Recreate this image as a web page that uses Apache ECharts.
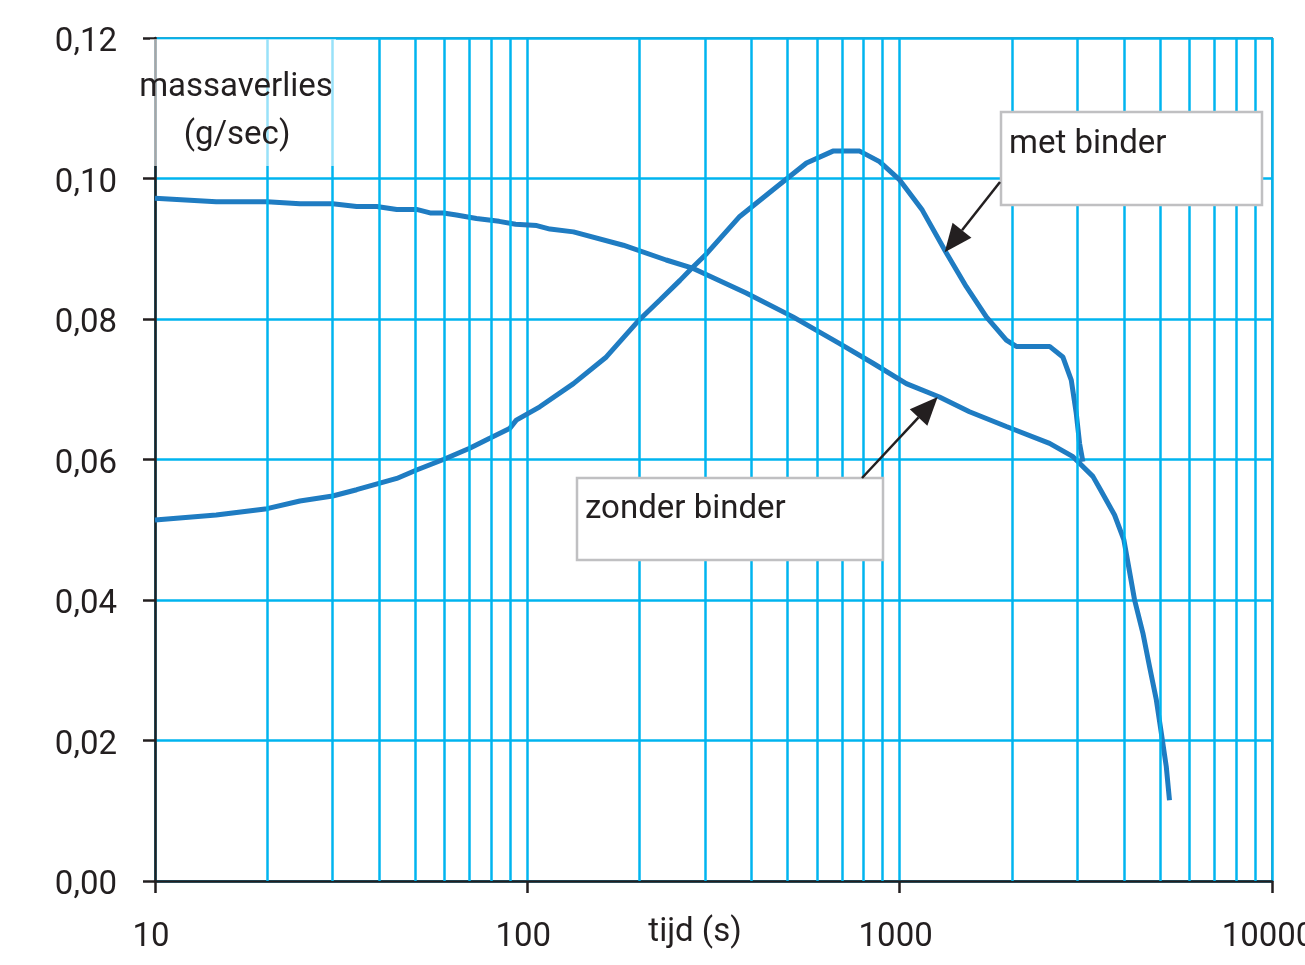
<!DOCTYPE html>
<html>
<head>
<meta charset="utf-8">
<script src="https://cdn.jsdelivr.net/npm/echarts@6/dist/echarts.min.js"></script>
<style>
  html, body { margin: 0; padding: 0; background: #fff; }
  #chart { width: 1305px; height: 965px; }
</style>
</head>
<body>
<div id="chart"></div>
<script>
// zonder binder: tijd (s) / massaverlies (g/sec)
const zonderT = [10, 14.6, 20, 24.5, 30, 34.8, 39.4, 44.6, 50.4, 54.8, 59.5, 64.5, 73, 84, 93, 106, 115, 133, 181, 236, 279, 387, 517, 690, 848, 1042, 1279, 1540, 1934, 2527, 2920, 3303, 3444, 3777, 4000, 4275, 4500, 4690, 4890, 5045, 5200, 5305]
const zonderV = [0.0972, 0.0967, 0.0967, 0.0964, 0.0964, 0.0960, 0.0960, 0.0956, 0.0956, 0.0951, 0.0951, 0.0948, 0.0943, 0.0939, 0.0935, 0.0933, 0.0928, 0.0924, 0.0905, 0.0884, 0.0872, 0.0837, 0.0803, 0.0765, 0.0737, 0.0708, 0.0689, 0.0668, 0.0647, 0.0623, 0.0604, 0.0576, 0.0559, 0.0521, 0.0486, 0.0400, 0.0353, 0.0305, 0.0258, 0.0210, 0.0163, 0.0115]

// met binder
const metT = [10, 14.6, 20, 24.5, 30, 34.8, 44.6, 50.4, 59.5, 70, 79, 89.6, 93.4, 108, 133, 163, 200, 227, 257, 276, 303, 372, 457, 562, 662, 781, 883, 1000, 1150, 1335, 1510, 1709, 1934, 2057, 2527, 2743, 2890, 2980, 3042, 3105]
const metV = [0.0514, 0.0521, 0.0530, 0.0541, 0.0548, 0.0557, 0.0573, 0.0585, 0.0600, 0.0616, 0.0630, 0.0644, 0.0656, 0.0675, 0.0708, 0.0746, 0.0799, 0.0827, 0.0855, 0.0872, 0.0893, 0.0946, 0.0984, 0.1022, 0.1039, 0.1039, 0.1024, 0.0998, 0.0955, 0.0894, 0.0846, 0.0803, 0.0770, 0.0761, 0.0761, 0.0746, 0.0713, 0.0666, 0.0623, 0.0597]

// minor log grid lines
const minorX = [20, 30, 40, 50, 60, 70, 80, 90, 200, 300, 400, 500, 600, 700, 800, 900, 2000, 3000, 4000, 5000, 6000, 7000, 8000, 9000]

// where the callout arrows point (data coords)
const metTip = [1321, 0.0895]
const zonderTip = [1265, 0.0689]

const lineColor = '#1f7cc2'
const gridColor = '#00b4ef'
const textColor = '#231f20'
const font = 'Roboto, "Liberation Sans", sans-serif'
const fs = 33

const zip = (a, b) => a.map((x, i) => [x, b[i]])

const chartDom = document.getElementById('chart')
const myChart = echarts.init(chartDom)

const option = {
    animation: false,
    backgroundColor: '#fff',
    grid: {
        left: 155, right: 33, top: 38, bottom: 84,
        outerBoundsMode: 'none', containLabel: false,
        show: true, borderColor: '#7d8a93', borderWidth: 2
    },
    xAxis: {
        type: 'log', logBase: 10, min: 10, max: 10000,
        axisLine: { lineStyle: { color: textColor, width: 2.5 } },
        axisTick: { show: true, length: 12, lineStyle: { color: textColor, width: 2.5 } },
        axisLabel: {
            fontSize: fs, color: textColor, fontFamily: font, margin: 40,
            formatter: v => '{a|' + v + '}',
            rich: { a: { fontSize: fs, color: textColor, fontFamily: font, padding: [0, 8, 0, 0] } }
        },
        splitLine: { show: true, lineStyle: { color: gridColor, width: 2.5 } },
        minorTick: { show: false }
    },
    yAxis: {
        type: 'value', min: 0, max: 0.12, interval: 0.02,
        axisLine: { show: true, lineStyle: { color: textColor, width: 2.5 } },
        axisTick: { show: true, length: 12, lineStyle: { color: textColor, width: 2.5 } },
        axisLabel: {
            fontSize: fs, color: textColor, fontFamily: font, margin: 38,
            formatter: v => '{a|' + v.toFixed(2).replace('.', ',') + '}',
            rich: { a: { fontSize: fs, color: textColor, fontFamily: font, padding: [10, 0, 0, 0] } }
        },
        splitLine: { show: true, lineStyle: { color: gridColor, width: 2.5 } }
    },
    series: [
        {
            // only carries the minor vertical grid lines
            type: 'line', z: 1, silent: true,
            data: [[10, 0]], showSymbol: false, lineStyle: { width: 0 },
            markLine: {
                silent: true, symbol: 'none', label: { show: false },
                lineStyle: { color: gridColor, width: 2.5, type: 'solid' },
                data: minorX.map(x => ({ xAxis: x }))
            }
        },
        {
            name: 'zonder binder', type: 'line', z: 3,
            data: zip(zonderT, zonderV), showSymbol: false,
            lineStyle: { color: lineColor, width: 5 }
        },
        {
            name: 'met binder', type: 'line', z: 3,
            data: zip(metT, metV), showSymbol: false,
            lineStyle: { color: lineColor, width: 5 }
        }
    ]
}
myChart.setOption(option)

// callout arrow with filled head
const arrow = (from, to) => {
    const dx = to[0] - from[0], dy = to[1] - from[1]
    const len = Math.sqrt(dx * dx + dy * dy)
    const ux = dx / len, uy = dy / len
    const headLen = 28, headW = 12
    const bx = to[0] - ux * headLen, by = to[1] - uy * headLen
    return [
        {
            type: 'line', z: 20,
            shape: { x1: from[0], y1: from[1], x2: bx, y2: by },
            style: { stroke: textColor, lineWidth: 2.5 }
        },
        {
            type: 'polygon', z: 20,
            shape: { points: [to, [bx - uy * headW, by + ux * headW], [bx + uy * headW, by - ux * headW]] },
            style: { fill: textColor }
        }
    ]
}

const metTipPx = myChart.convertToPixel({ gridIndex: 0 }, metTip)
const zonderTipPx = myChart.convertToPixel({ gridIndex: 0 }, zonderTip)

const callout = (x, y, w, h, text, dy) => [
    {
        type: 'rect', z: 19,
        shape: { x: x, y: y, width: w, height: h },
        style: { fill: '#fff', stroke: '#c0c0c2', lineWidth: 2.5 }
    },
    {
        type: 'text', z: 21, x: x + 8, y: y + dy,
        style: { text: text, fontSize: fs, fill: textColor, fontFamily: font, verticalAlign: 'middle' }
    }
]

myChart.setOption({
    graphic: [
        {
            type: 'rect', z: 5,
            shape: { x: 150, y: 39, width: 186, height: 127 },
            style: { fill: 'rgba(255,255,255,0.6)' }
        },
        {
            type: 'text', z: 6, x: 236, y: 88,
            style: { text: 'massaverlies', fontSize: fs, fill: textColor, fontFamily: font, align: 'center', verticalAlign: 'middle' }
        },
        {
            type: 'text', z: 6, x: 237, y: 136,
            style: { text: '(g/sec)', fontSize: fs, fill: textColor, fontFamily: font, align: 'center', verticalAlign: 'middle' }
        },
        {
            type: 'text', z: 6, x: 695, y: 933,
            style: { text: 'tijd (s)', fontSize: fs, fill: textColor, fontFamily: font, align: 'center', verticalAlign: 'middle' }
        },
        ...callout(1001, 112, 261, 93, 'met binder', 33),
        ...arrow([1000, 182], metTipPx),
        ...callout(577, 478, 306, 82, 'zonder binder', 32),
        ...arrow([862, 478], zonderTipPx)
    ]
})
</script>
</body>
</html>
